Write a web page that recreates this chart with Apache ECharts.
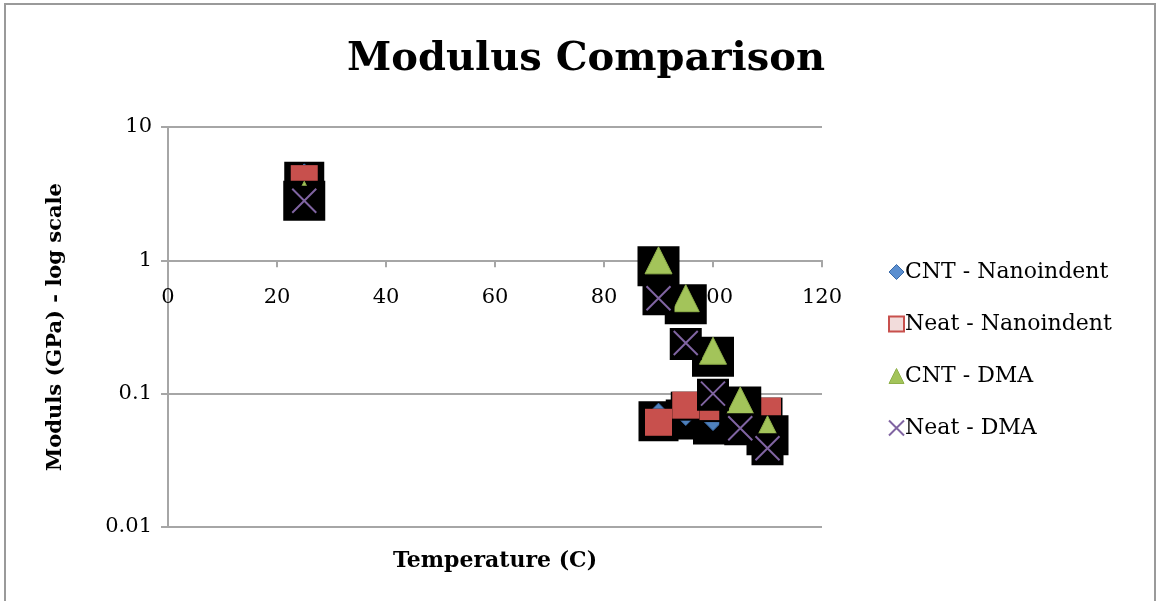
<!DOCTYPE html>
<html>
<head>
<meta charset="utf-8">
<script src="https://cdn.jsdelivr.net/npm/echarts@6/dist/echarts.min.js"></script>
<style>
  html, body { margin: 0; padding: 0; background: #fff; }
  #chart { width: 1157px; height: 601px; }
</style>
</head>
<body>
<div id="chart"></div>
<script>
// Temperature (C) and modulus (GPa) for each test group
var seriesNames = ['CNT - Nanoindent', 'Neat - Nanoindent', 'CNT - DMA', 'Neat - DMA'];
var cntNanoT   = [25, 90, 95, 100];
var cntNanoE   = [4.3, 0.069, 0.071, 0.065];
var neatNanoT  = [25, 90, 95, 100, 110];
var neatNanoE  = [4.1, 0.061, 0.082, 0.080, 0.074];
var cntDmaT    = [25, 90, 95, 100, 105, 110];
var cntDmaE    = [3.1, 1.0, 0.52, 0.21, 0.089, 0.054];
var neatDmaT   = [25, 90, 95, 100, 105, 110];
var neatDmaE   = [2.8, 0.52, 0.24, 0.10, 0.055, 0.039];
var xTicks = [0, 20, 40, 60, 80, 100, 120];
var yTicks = [0.01, 0.1, 1, 10];

var FONT = 'DejaVu Serif';
var GRID_COLOR = '#a6a6a6';
var CROSS = 'path://M0,0 L10,10 M10,0 L0,10';

function pairs(xs, ys) {
  return xs.map(function (x, i) { return [x, ys[i]]; });
}

var groups = [
  { name: seriesNames[0], data: pairs(cntNanoT, cntNanoE), symbol: 'diamond', size: 24,
    style: { color: '#4F81BD', borderColor: '#3A6AA8', borderWidth: 1, opacity: 1 },
    back: [40, 40], backOffset: [0, 6] },
  { name: seriesNames[1], data: pairs(neatNanoT, neatNanoE), symbol: 'rect', size: 27,
    style: { color: '#C8504D', borderColor: '#C8504D', borderWidth: 0, opacity: 1 },
    back: [30, 29], backOffset: [0, 1] },
  { name: seriesNames[2], data: pairs(cntDmaT, cntDmaE), symbol: 'triangle', size: 27,
    style: { color: '#A3C45A', borderColor: '#8FB04A', borderWidth: 1, opacity: 1 },
    back: [42, 40], backOffset: [0, 6] },
  { name: seriesNames[3], data: pairs(neatDmaT, neatDmaE), symbol: CROSS, size: 24,
    style: { color: '#8064A2', borderColor: '#8064A2', borderWidth: 2, opacity: 1 },
    back: [32, 32], backOffset: [0, 1] }
];

var series = [];
groups.forEach(function (g, i) {
  // dark backing square behind each marker, layered with its own series
  series.push({
    type: 'scatter',
    name: g.name + ' bg',
    data: g.data,
    symbol: 'rect',
    symbolSize: g.back,
    symbolOffset: g.backOffset,
    itemStyle: { color: '#000', opacity: 1 },
    z: 10 + i * 2,
    silent: true
  });
  series.push({
    type: 'scatter',
    name: g.name,
    data: g.data,
    symbol: g.symbol,
    symbolSize: g.size,
    itemStyle: g.style,
    z: 11 + i * 2
  });
});

var chart = echarts.init(document.getElementById('chart'), null, { renderer: 'canvas' });
var gridTop = 127, gridBottom = 74;
var gridHeight = 601 - gridTop - gridBottom;
// horizontal axis sits on the 1 GPa line: two of three decades above the bottom
var xOffset = -gridHeight * 2 / 3;

chart.setOption({
  animation: false,
  backgroundColor: '#fff',
  title: {
    text: 'Modulus Comparison',
    left: 581, top: 35, textAlign: 'center',
    textStyle: { fontFamily: FONT, fontWeight: 'bold', fontSize: 40, color: '#000' }
  },
  graphic: [{
    type: 'rect',
    shape: { x: 5, y: 4, width: 1150, height: 640 },
    style: { fill: 'none', stroke: '#9a9a9a', lineWidth: 2 },
    silent: true
  }],
  legend: {
    orient: 'vertical',
    left: 883, top: 256,
    itemWidth: 15, itemHeight: 15, itemGap: 30,
    textStyle: { fontFamily: FONT, fontSize: 22, color: '#000', padding: [0, 0, 0, -4] },
    data: [
      { name: seriesNames[0], icon: 'diamond', itemStyle: { color: '#5B8FD0', borderColor: '#3A6AA8', borderWidth: 1 } },
      { name: seriesNames[1], icon: 'rect', itemStyle: { color: '#F2DCDB', borderColor: '#C8504D', borderWidth: 2 } },
      { name: seriesNames[2], icon: 'triangle', itemStyle: { color: '#A3C45A', borderColor: '#8FB04A', borderWidth: 1 } },
      { name: seriesNames[3], icon: CROSS, itemStyle: { color: '#8064A2', borderColor: '#8064A2', borderWidth: 2 } }
    ]
  },
  grid: { left: 168, right: 335, top: gridTop, bottom: gridBottom, containLabel: false },
  xAxis: {
    type: 'value',
    min: xTicks[0], max: xTicks[xTicks.length - 1], interval: 20,
    offset: xOffset,
    name: 'Temperature (C)',
    nameLocation: 'middle',
    nameGap: 290,
    nameTextStyle: { fontFamily: FONT, fontWeight: 'bold', fontSize: 22, color: '#000' },
    axisLine: { show: true, lineStyle: { color: GRID_COLOR, width: 2 } },
    axisTick: { show: true, inside: false, length: 7, lineStyle: { color: GRID_COLOR, width: 2 } },
    axisLabel: { margin: 27, fontFamily: FONT, fontSize: 21, color: '#000' },
    splitLine: { show: false }
  },
  yAxis: {
    type: 'log',
    logBase: 10,
    min: yTicks[0], max: yTicks[yTicks.length - 1],
    name: 'Moduls (GPa) - log scale',
    nameLocation: 'middle',
    nameGap: 102,
    nameRotate: 90,
    nameTextStyle: { fontFamily: FONT, fontWeight: 'bold', fontSize: 21, color: '#000' },
    axisLine: { show: true, lineStyle: { color: GRID_COLOR, width: 2 } },
    axisTick: { show: true, length: 7, lineStyle: { color: GRID_COLOR, width: 2 } },
    axisLabel: {
      margin: 16, fontFamily: FONT, fontSize: 21, color: '#000',
      formatter: function (v) { return String(+v.toPrecision(3)); }
    },
    splitLine: { show: true, lineStyle: { color: GRID_COLOR, width: 2 } }
  },
  series: series
});
</script>
</body>
</html>
